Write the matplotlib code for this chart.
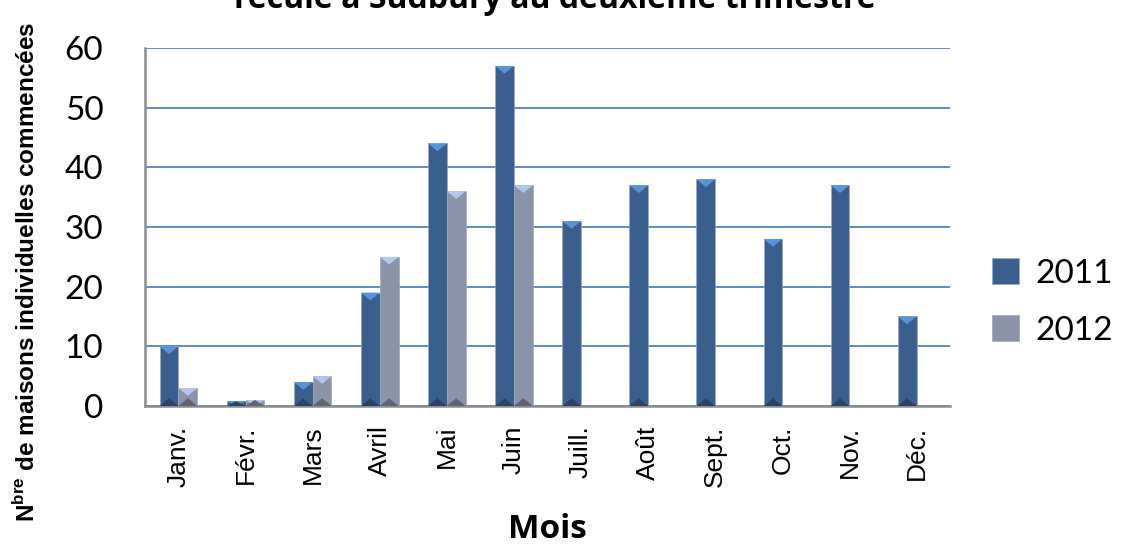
import matplotlib
matplotlib.use("Agg")
import matplotlib.pyplot as plt
import numpy as np
from matplotlib.patches import Polygon

months = ["Janv.", "Févr.", "Mars", "Avril", "Mai", "Juin", "Juill.", "Août", "Sept.", "Oct.", "Nov.", "Déc."]
v2011 = [10, 0.8, 4, 19, 44, 57, 31, 37, 38, 28, 37, 15]
v2012 = [3, 1, 5, 25, 36, 37]
series_names = ["2011", "2012"]
yticks = [0, 10, 20, 30, 40, 50, 60]

plt.rcParams['mathtext.fontset'] = 'custom'
plt.rcParams['mathtext.rm'] = 'Liberation Sans'
plt.rcParams['mathtext.bf'] = 'Liberation Sans:bold'

fig = plt.figure(figsize=(11.21, 5.49), dpi=100)
ax = fig.add_axes([0.1293, 0.2605, 0.7182, 0.652])

x = np.arange(len(months))
w = 0.28
c11, c11_top, c11_bot = "#3B5F8C", "#5B93D8", "#2A4466"
c12, c12_top, c12_bot = "#8A93A8", "#B3C6EC", "#5E6470"

def draw(xs, vals, color, ctop, cbot, label):
    bars = ax.bar(xs, vals, width=w, color=color, edgecolor="#9AA7BD", linewidth=0.5, label=label, zorder=3)
    for b in bars:
        x0 = b.get_x(); x1 = x0 + b.get_width(); h = b.get_height(); xm = x0 + b.get_width() / 2
        th = min(1.3, h)
        ax.add_patch(Polygon([[x0, h], [x1, h], [xm, h - th]], closed=True, color=ctop, zorder=4, lw=0))
        bh = min(1.3, h)
        ax.add_patch(Polygon([[x0, 0], [x1, 0], [xm, bh]], closed=True, color=cbot, zorder=4, lw=0))
    return bars

draw(x - w / 2, v2011, c11, c11_top, c11_bot, series_names[0])
draw(x[:len(v2012)] + w / 2, v2012, c12, c12_top, c12_bot, series_names[1])

ax.set_xlim(-0.5, len(months) - 0.5)
ax.set_ylim(0, 60)
ax.set_yticks(yticks)
ax.set_yticklabels([str(t) for t in yticks], fontsize=24, family="Lato")
ax.set_xticks(x)
ax.set_xticklabels(months, rotation=90, fontsize=19, family=["Liberation Sans Narrow", "Liberation Sans"])
ax.tick_params(axis="y", length=0, pad=30)
ax.tick_params(axis="x", length=0, pad=14)
ax.yaxis.grid(True, color="#4F81BD", linewidth=1.3, zorder=0)
ax.set_axisbelow(True)
for s in ["top", "right"]:
    ax.spines[s].set_visible(False)
for s in ["left", "bottom"]:
    ax.spines[s].set_color("#8C8C8C")
    ax.spines[s].set_linewidth(1.8)

ax.set_xlabel("Mois", fontsize=24, fontweight="bold", family="Open Sans", labelpad=19)
fig.text(0.024, 0.505, r"N$^{\mathbf{bre}}$ de maisons individuelles commencées",
         rotation=90, fontsize=17.5, fontweight="bold", family="Liberation Sans", ha="center", va="center")

fig.text(0.495, 1.0, "recule à Sudbury au deuxième trimestre", fontsize=23, fontweight="bold",
         family="Open Sans", ha="center", va="center")

leg = fig.legend(loc="center left", bbox_to_anchor=(0.885, 0.45), frameon=False, borderaxespad=0,
                 borderpad=0, handlelength=0.8, handleheight=0.8, labelspacing=0.8, handletextpad=0.5,
                 prop={"family": "Lato", "size": 24})

fig.savefig("out.png", dpi=100)
